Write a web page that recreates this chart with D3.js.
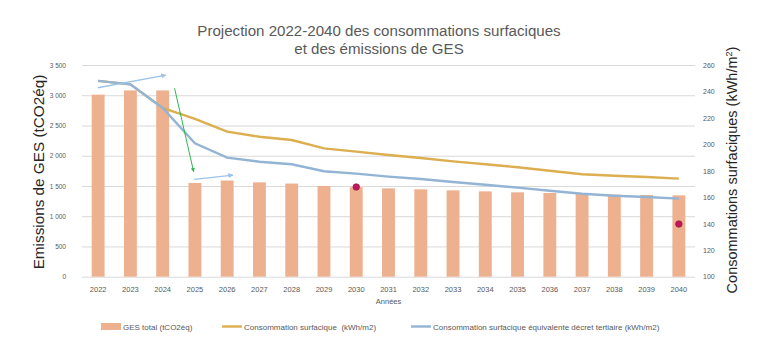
<!DOCTYPE html>
<html><head><meta charset="utf-8">
<script src="https://cdn.jsdelivr.net/npm/d3@7"></script>
<style>
html,body{margin:0;padding:0;background:#fff;}
svg{display:block;font-family:"Liberation Sans",Arial,sans-serif;}
</style></head>
<body><svg id="c" width="768" height="358"></svg>
<script>
const years = ["2022","2023","2024","2025","2026","2027","2028","2029","2030","2031","2032","2033","2034","2035","2036","2037","2038","2039","2040"];
const ges = [3010,3080,3080,1550,1590,1560,1540,1500,1480,1460,1445,1428,1411,1395,1384,1367,1356,1350,1345];
const consoSurf = [248,245.4,227.5,219.2,209.6,205.8,203.3,197,194.5,192,189.7,187.2,185,182.7,180.1,177.4,176.3,175.4,174.1];
const consoDecret = [248,245.4,227.5,200.8,190,186.9,185,179.7,177.9,175.6,173.8,171.6,169.5,167.3,165,162.7,161.2,160.2,159];
const targets = [{year:"2030", value:167.8},{year:"2040", value:139.8}];
const leftTicks = [0,500,1000,1500,2000,2500,3000,3500];
const rightTicks = [100,120,140,160,180,200,220,240,260];
// annotation arrows in data coords: [index, GES value]
const arrows = [
  {from:[-0.01,3124], to:[2.1,3334], color:"#9dc3e6"},
  {from:[2.37,3114], to:[2.96,1736], color:"#2db84d"},
  {from:[2.98,1610], to:[4.18,1681], color:"#9dc3e6"}
];

const svg = d3.select("#c");
const L = 82, R = 695, T = 65, B = 276.7;
const x = d3.scaleBand().domain(years).range([L,R]).paddingInner(0.6).paddingOuter(0.3);
const yL = d3.scaleLinear().domain([0,3500]).range([B,T]);
const yR = d3.scaleLinear().domain([100,260]).range([B,T]);
const cx = d => x(d) + x.bandwidth()/2;
const xi = d3.scaleLinear().domain([0,years.length-1]).range([cx(years[0]), cx(years[years.length-1])]);
const fr = d3.formatLocale({decimal:",", thousands:" ", grouping:[3], currency:["","€"]});
const fmt = fr.format(",d");
const FF = "'Liberation Sans',Arial,sans-serif";

// grid
const grid = svg.append("g").attr("transform",`translate(${L},0)`)
  .call(d3.axisLeft(yL).tickValues(leftTicks).tickSize(-(R-L)).tickFormat(""));
grid.select(".domain").remove();
grid.selectAll("line").attr("stroke","#d9d9d9").attr("stroke-width",1);

// left axis labels
const ax = svg.append("g").attr("transform",`translate(66,0)`)
  .call(d3.axisLeft(yL).tickValues(leftTicks).tickSize(0).tickPadding(0).tickFormat(fmt));
ax.select(".domain").remove();
ax.selectAll("text").attr("fill","#595959").style("font-size","6.5px").style("font-family",FF);

const axr = svg.append("g").attr("transform",`translate(703,0)`)
  .call(d3.axisRight(yR).tickValues(rightTicks).tickSize(0).tickPadding(0));
axr.select(".domain").remove();
axr.selectAll("text").attr("fill","#595959").style("font-size","7px").style("font-family",FF);

const axb = svg.append("g").attr("transform",`translate(0,${B+7})`)
  .call(d3.axisBottom(x).tickSize(0));
axb.select(".domain").remove();
axb.selectAll("text").attr("fill","#595959").style("font-size","7.5px").style("font-family",FF);

// bars
svg.append("g").selectAll("rect").data(years).join("rect")
  .attr("x", d => x(d)).attr("width", x.bandwidth())
  .attr("y", (d,i) => yL(ges[i])).attr("height", (d,i) => B - yL(ges[i]))
  .attr("fill","#eeb190");

// lines
const line = arr => d3.line().x((d,i)=>cx(years[i])).y(d=>yR(d))(arr);
svg.append("path").attr("d", line(consoSurf)).attr("fill","none").attr("stroke","#dcae4f").attr("stroke-width",2.4);
svg.append("path").attr("d", line(consoDecret)).attr("fill","none").attr("stroke","#93b4d4").attr("stroke-width",2.4);

// target dots
svg.append("g").selectAll("circle").data(targets).join("circle")
  .attr("cx", d => cx(d.year)).attr("cy", d => yR(d.value)).attr("r", 3.3)
  .attr("fill","#c2185b").attr("stroke","#8a1040").attr("stroke-width",0.6);

// arrows
const defs = svg.append("defs");
arrows.forEach((a,k)=>{
  defs.append("marker").attr("id","m"+k).attr("viewBox","0 0 10 10").attr("refX",9).attr("refY",5)
    .attr("markerWidth",4).attr("markerHeight",4).attr("orient","auto")
    .append("path").attr("d","M0,0L10,5L0,10z").attr("fill",a.color);
  svg.append("line")
    .attr("x1", xi(a.from[0])).attr("y1", yL(a.from[1]))
    .attr("x2", xi(a.to[0])).attr("y2", yL(a.to[1]))
    .attr("stroke", a.color).attr("stroke-width", k===1?1:1.3)
    .attr("marker-end", `url(#m${k})`);
});

// titles
const title = svg.append("text").attr("x",379).attr("text-anchor","middle").attr("fill","#595959").style("font-size","15.1px");
title.append("tspan").attr("x",379).attr("y",36).text("Projection 2022-2040 des consommations surfaciques");
title.append("tspan").attr("x",379).attr("y",54).text("et des émissions de GES");

svg.append("text").attr("transform",`translate(44,172) rotate(-90)`).attr("text-anchor","middle")
  .attr("fill","#262626").style("font-size","15.3px").text("Emissions de GES (tCO2éq)");

const rt = svg.append("text").attr("transform",`translate(737,170) rotate(-90)`).attr("text-anchor","middle")
  .attr("fill","#262626").style("font-size","14.5px");
rt.append("tspan").text("Consommations surfaciques (kWh/m");
rt.append("tspan").attr("dy",-5).style("font-size","9px").text("2");
rt.append("tspan").attr("dy",5).text(")");

svg.append("text").attr("x",(L+R)/2).attr("y",304).attr("text-anchor","middle").attr("fill","#595959").style("font-size","7.5px").text("Années");

// legend
const legend = [
  {label:"GES total (tCO2éq)", type:"rect", color:"#eeb190", x:101},
  {label:"Consommation surfacique  (kWh/m2)", type:"line", color:"#dcae4f", x:222},
  {label:"Consommation surfacique équivalente décret tertiaire (kWh/m2)", type:"line", color:"#93b4d4", x:411}
];
const lg = svg.append("g");
legend.forEach(it=>{
  if(it.type==="rect") lg.append("rect").attr("x",it.x).attr("y",323).attr("width",20).attr("height",7).attr("fill",it.color);
  else lg.append("line").attr("x1",it.x).attr("x2",it.x+20).attr("y1",326.5).attr("y2",326.5).attr("stroke",it.color).attr("stroke-width",2.4);
  lg.append("text").attr("x",it.x+22).attr("y",329.5).attr("fill","#595959").style("font-size","8px").attr("xml:space","preserve").text(it.label);
});
</script></body></html>
